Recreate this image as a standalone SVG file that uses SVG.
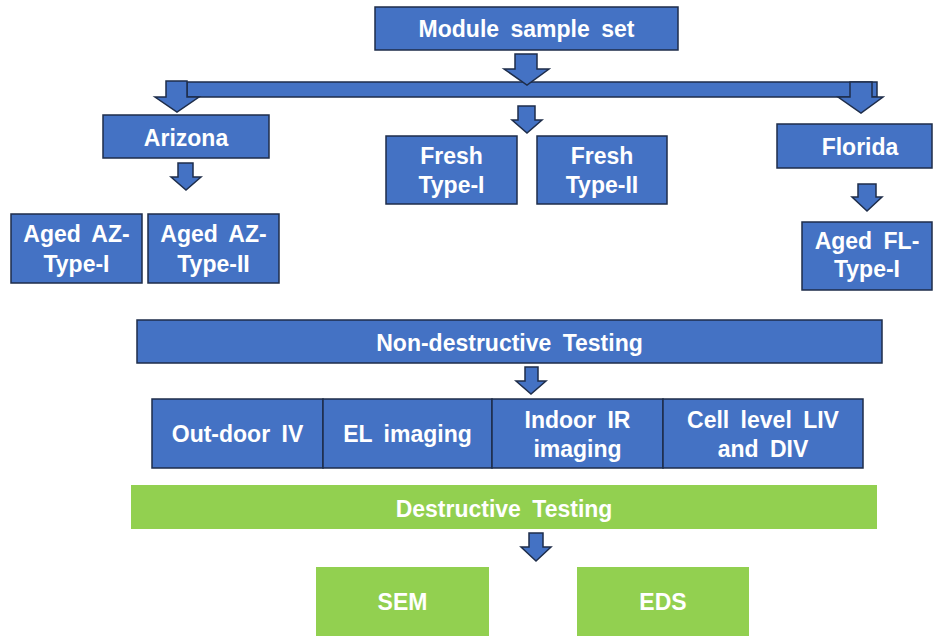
<svg xmlns="http://www.w3.org/2000/svg" width="933" height="636" viewBox="0 0 933 636">
<style>
.b{fill:#4472C4;stroke:#1e2d4a;stroke-width:1.5}
.g{fill:#92D050}
.a{fill:#4472C4;stroke:#1e2d4a;stroke-width:1.5;stroke-linejoin:miter}
.t{font-family:"Liberation Sans",Arial,sans-serif;font-weight:bold;font-size:23px;fill:#fff;text-anchor:middle;word-spacing:5px}
</style>
<rect width="933" height="636" fill="#fff"/>
<g id="connectors">
<rect class="a" x="187" y="82" width="690" height="15"/>
<path class="a" d="M515,54H537V69H549L527,85L504,69H515Z"/>
<path class="a" d="M166,81H187V97H199L177,112L155,97H166Z"/>
<path class="a" d="M850,82H872V97H883L861,113L838,97H850Z"/>
<path class="a" d="M518,106H535V120H542L527,133L512,120H518Z"/>
<path class="a" d="M178,163H193V177H201L186,190L171,177H178Z"/>
<path class="a" d="M858,184H876V197H882L867,211L852,197H858Z"/>
<path class="a" d="M525,367H538V381H546L531,394L516,381H525Z"/>
<path class="a" d="M529,533H543V547H551L536,561L521,547H529Z"/>
</g>
<g id="module-sample-set"><rect class="b" x="375" y="7" width="303" height="43"/><text class="t" x="526.5" y="37">Module sample set</text></g>
<g id="arizona"><rect class="b" x="103" y="115" width="166" height="43"/><text class="t" x="186" y="146">Arizona</text></g>
<g id="aged-az-type-i"><rect class="b" x="11" y="214" width="131" height="69"/><text class="t" x="76.5" y="242">Aged AZ-</text><text class="t" x="76.5" y="272">Type-I</text></g>
<g id="aged-az-type-ii"><rect class="b" x="148" y="214" width="131" height="69"/><text class="t" x="213.5" y="242">Aged AZ-</text><text class="t" x="213.5" y="272">Type-II</text></g>
<g id="fresh-type-i"><rect class="b" x="386" y="136" width="131" height="68"/><text class="t" x="451.5" y="164">Fresh</text><text class="t" x="451.5" y="193">Type-I</text></g>
<g id="fresh-type-ii"><rect class="b" x="537" y="136" width="130" height="68"/><text class="t" x="602" y="164">Fresh</text><text class="t" x="602" y="193">Type-II</text></g>
<g id="florida"><rect class="b" x="777" y="124" width="155" height="44"/><text class="t" x="860" y="155">Florida</text></g>
<g id="aged-fl-type-i"><rect class="b" x="802" y="222" width="130" height="68"/><text class="t" x="867" y="249">Aged FL-</text><text class="t" x="867" y="277">Type-I</text></g>
<g id="non-destructive-testing"><rect class="b" x="137" y="320" width="745" height="43"/><text class="t" x="509.5" y="351">Non-destructive Testing</text></g>
<g id="outdoor-iv"><rect class="b" x="152" y="399" width="171" height="69"/><text class="t" x="237.5" y="442">Out-door IV</text></g>
<g id="el-imaging"><rect class="b" x="323" y="399" width="169" height="69"/><text class="t" x="407.5" y="442">EL imaging</text></g>
<g id="indoor-ir-imaging"><rect class="b" x="492" y="399" width="171" height="69"/><text class="t" x="577.5" y="428">Indoor IR</text><text class="t" x="577.5" y="457">imaging</text></g>
<g id="cell-level"><rect class="b" x="663" y="399" width="200" height="69"/><text class="t" x="763" y="428">Cell level LIV</text><text class="t" x="763" y="457">and DIV</text></g>
<g id="destructive-testing"><rect class="g" x="131" y="485" width="746" height="44"/><text class="t" x="504" y="517">Destructive Testing</text></g>
<g id="sem"><rect class="g" x="316" y="567" width="173" height="69"/><text class="t" x="402.5" y="610">SEM</text></g>
<g id="eds"><rect class="g" x="577" y="567" width="172" height="69"/><text class="t" x="663" y="610">EDS</text></g>
</svg>
